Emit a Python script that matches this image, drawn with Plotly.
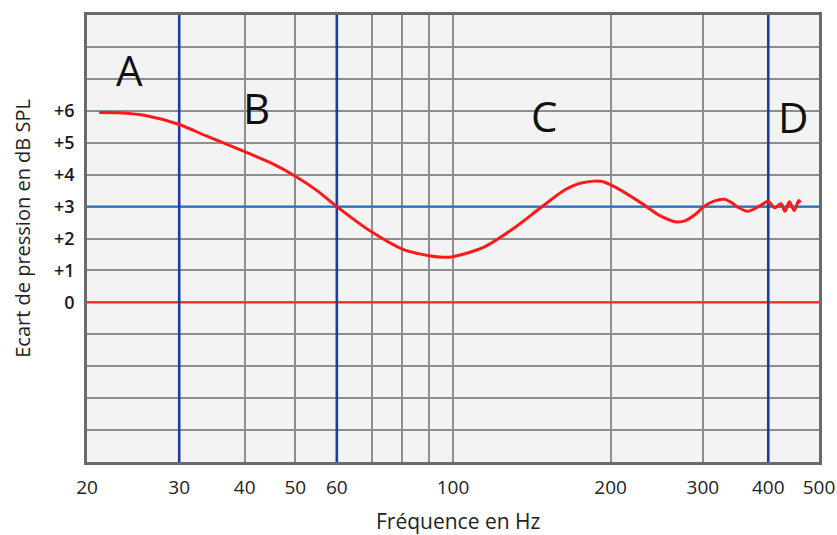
import numpy as np
import plotly.graph_objects as go

# ---- data ----
freq_hz = [21.1, 23.0, 25.7, 30, 33.7, 40, 45, 50, 55, 60, 70, 80, 90, 95.8, 100,
           114.3, 131.7, 148, 163.4, 175.8, 191.6, 202.8, 229.3, 247.3, 266.8, 278,
           290, 301.4, 315, 329.7, 340, 349.2, 366.0, 389.7, 399.6, 411.3, 423.2,
           430.4, 438.9, 448.4, 457.4, 460.7]
spl_db = [5.95, 5.94, 5.86, 5.57, 5.22, 4.72, 4.36, 3.95, 3.50, 3.0, 2.2, 1.67, 1.46,
          1.41, 1.43, 1.72, 2.36, 3.0, 3.52, 3.74, 3.79, 3.63, 3.10, 2.73, 2.52, 2.56,
          2.75, 3.0, 3.17, 3.23, 3.13, 2.99, 2.85, 3.07, 3.17, 2.96, 3.09, 2.85, 3.15,
          2.88, 3.19, 3.12]

zone_bounds = [30, 60, 400]
zone_labels = ["A", "B", "C", "D"]
ref_levels = [0, 3]

x_tickvals = [20, 30, 40, 50, 60, 70, 80, 90, 100, 200, 300, 400, 500]
x_ticktext = ["20", "30", "40", "50", "60", "", "", "", "100", "200", "300", "400", "500"]
y_tickvals = list(range(-5, 10))
y_ticktext = ["", "", "", "", "", "0", "+1", "+2", "+3", "+4", "+5", "+6", "", "", ""]

X_MIN, X_MAX = 20, 500
Y_MIN, Y_MAX = -5, 9

FONT = "Open Sans"

fig = go.Figure()

# reference horizontal lines
fig.add_trace(go.Scatter(x=[X_MIN, X_MAX], y=[ref_levels[1]] * 2, mode="lines",
                         line=dict(color="#2f6fb3", width=2), hoverinfo="skip"))
fig.add_trace(go.Scatter(x=[X_MIN, X_MAX], y=[ref_levels[0]] * 2, mode="lines",
                         line=dict(color="#ff2a2a", width=2.2), hoverinfo="skip"))

# zone boundaries
for b in zone_bounds:
    fig.add_trace(go.Scatter(x=[b, b], y=[Y_MIN, Y_MAX], mode="lines",
                             line=dict(color="#1c3d9c", width=2.6), hoverinfo="skip"))

# response curve
fig.add_trace(go.Scatter(x=freq_hz, y=spl_db, mode="lines",
                         line=dict(color="#ff1a1a", width=3, shape="spline", smoothing=0.8)))

# zone letters (paper positions)
label_pos = [(0.0587, 0.879), (0.231, 0.792), (0.624, 0.776), (0.964, 0.772)]
for lab, (px, py) in zip(zone_labels, label_pos):
    fig.add_annotation(text=lab, x=px, y=py, xref="paper", yref="paper",
                       showarrow=False, xanchor="center", yanchor="middle",
                       font=dict(family=FONT, size=42, color="#111111"))

# axis titles
fig.add_annotation(text="Ecart de pression en dB SPL", x=-0.088, y=0.523,
                   xref="paper", yref="paper", showarrow=False, textangle=-90,
                   xanchor="center", yanchor="middle",
                   font=dict(family=FONT, size=20, color="#222222"))
fig.add_annotation(text="Fréquence en Hz", x=0.508, y=-0.131,
                   xref="paper", yref="paper", showarrow=False,
                   xanchor="center", yanchor="middle",
                   font=dict(family=FONT, size=21, color="#222222"))

fig.update_layout(
    width=837, height=535,
    margin=dict(l=87, r=18, t=15, b=73, autoexpand=False),
    paper_bgcolor="white",
    plot_bgcolor="#f3f3f3",
    showlegend=False,
    xaxis=dict(type="log", range=[np.log10(X_MIN), np.log10(X_MAX)],
               tickmode="array", tickvals=x_tickvals, ticktext=x_ticktext,
               showgrid=True, gridcolor="#8e8e8e", gridwidth=1.6,
               showline=True, mirror=True, linecolor="#6a6a6a", linewidth=2.6,
               ticks="", ticklabelstandoff=6, zeroline=False, automargin=False,
               tickfont=dict(family=FONT, size=19, color="#222222")),
    yaxis=dict(range=[Y_MIN, Y_MAX], tickmode="array",
               tickvals=y_tickvals, ticktext=y_ticktext,
               showgrid=True, gridcolor="#8e8e8e", gridwidth=1.6,
               showline=True, mirror=True, linecolor="#6a6a6a", linewidth=2.6,
               ticks="", ticklabelstandoff=6, zeroline=False, automargin=False,
               tickfont=dict(family=FONT, size=18, color="#1a1a1a", weight=600)),
)

fig.write_html("out.html",
               config={"displayModeBar": False},
               post_script="document.body.style.margin='0px';document.body.style.overflow='hidden';")
